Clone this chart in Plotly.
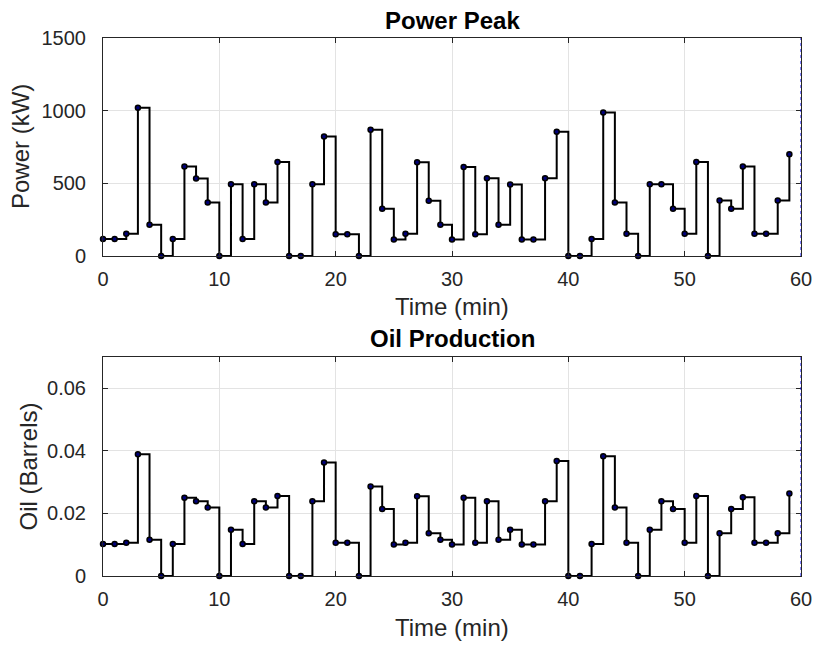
import plotly.graph_objects as go

time_min = list(range(60))
power_kw = [117, 117, 153, 1020, 215, 0, 117, 615, 533, 368,
            0, 494, 117, 494, 368, 647, 0, 0, 494, 823,
            149, 149, 0, 869, 325, 114, 153, 645, 380, 215,
            114, 613, 149, 535, 215, 492, 114, 114, 535, 855,
            0, 0, 117, 988, 368, 153, 0, 494, 494, 325,
            153, 647, 0, 382, 325, 615, 153, 153, 382, 700]
oil_barrels = [0.0102, 0.0102, 0.0106, 0.0389, 0.0116, 0, 0.0102, 0.0250, 0.0239, 0.0219,
               0, 0.0148, 0.0102, 0.0239, 0.0219, 0.0256, 0, 0, 0.0239, 0.0363,
               0.0106, 0.0106, 0, 0.0286, 0.0214, 0.0101, 0.0106, 0.0255, 0.0137, 0.0116,
               0.0101, 0.0250, 0.0106, 0.0239, 0.0116, 0.0148, 0.0101, 0.0101, 0.0239, 0.0368,
               0, 0, 0.0102, 0.0383, 0.0219, 0.0106, 0, 0.0148, 0.0239, 0.0214,
               0.0106, 0.0256, 0, 0.0137, 0.0214, 0.0252, 0.0106, 0.0106, 0.0137, 0.0264]

x_ticks = [0, 10, 20, 30, 40, 50, 60]
power_ticks = [0, 500, 1000, 1500]
oil_ticks = [0, 0.02, 0.04, 0.06]

FONT = "Liberation Sans, Arial, Helvetica, sans-serif"
AX = "#262626"
GRID = "#e3e3e3"
TICK_SIZE = 20
LABEL_SIZE = 24

fig = go.Figure()
marker = dict(size=5, color="#00007a", line=dict(color="black", width=1.5))
fig.add_trace(go.Scatter(x=time_min, y=power_kw, mode="lines+markers", line_shape="hv",
                         line=dict(color="black", width=2), marker=marker,
                         xaxis="x", yaxis="y", showlegend=False, cliponaxis=False))
fig.add_trace(go.Scatter(x=time_min, y=oil_barrels, mode="lines+markers", line_shape="hv",
                         line=dict(color="black", width=2), marker=marker,
                         xaxis="x2", yaxis="y2", showlegend=False, cliponaxis=False))

axcommon = dict(showline=True, linecolor=AX, linewidth=1, mirror="ticks", ticks="inside",
                ticklen=5, tickcolor=AX, showgrid=True, gridcolor=GRID, gridwidth=1,
                zeroline=False, automargin=False,
                tickfont=dict(family=FONT, size=TICK_SIZE, color=AX))
xcommon = dict(axcommon, ticklabelstandoff=5)
ycommon = dict(axcommon, ticklabelstandoff=12)

fig.update_layout(
    width=814, height=645,
    margin=dict(l=103, r=13, t=38, b=69),
    paper_bgcolor="white", plot_bgcolor="white",
    xaxis=dict(domain=[0, 1], anchor="y", range=[0, 60], tickvals=x_ticks, **xcommon),
    yaxis=dict(domain=[0.5948, 1], anchor="x", range=[0, 1500], tickvals=power_ticks, **ycommon),
    xaxis2=dict(domain=[0, 1], anchor="y2", range=[0, 60], tickvals=x_ticks, **xcommon),
    yaxis2=dict(domain=[0, 0.407], anchor="x2", range=[0, 0.07], tickvals=oil_ticks, **ycommon),
    annotations=[
        dict(text="<b>Power Peak</b>", xref="x domain", yref="paper", x=0.5, y=1.0,
             xanchor="center", yanchor="middle", yshift=18, showarrow=False,
             font=dict(family=FONT, size=LABEL_SIZE, color="black")),
        dict(text="<b>Oil Production</b>", xref="x2 domain", yref="y2 domain", x=0.5, y=1.0,
             xanchor="center", yanchor="middle", yshift=19, showarrow=False,
             font=dict(family=FONT, size=LABEL_SIZE, color="black")),
        dict(text="Time (min)", xref="x domain", yref="y domain", x=0.5, y=0,
             xanchor="center", yanchor="middle", yshift=-51, showarrow=False,
             font=dict(family=FONT, size=LABEL_SIZE, color=AX)),
        dict(text="Time (min)", xref="x2 domain", yref="y2 domain", x=0.5, y=0,
             xanchor="center", yanchor="middle", yshift=-51, showarrow=False,
             font=dict(family=FONT, size=LABEL_SIZE, color=AX)),
        dict(text="Power (kW)", xref="paper", yref="y domain", x=0, y=0.5, textangle=-90,
             xanchor="center", yanchor="middle", xshift=-82, showarrow=False,
             font=dict(family=FONT, size=LABEL_SIZE, color=AX)),
        dict(text="Oil (Barrels)", xref="paper", yref="y2 domain", x=0, y=0.5, textangle=-90,
             xanchor="center", yanchor="middle", xshift=-74, showarrow=False,
             font=dict(family=FONT, size=LABEL_SIZE, color=AX)),
    ],
    shapes=[
        dict(type="line", xref="x", yref="y domain", x0=60, x1=60, y0=0, y1=1,
             line=dict(color="blue", width=1, dash="dot")),
        dict(type="line", xref="x2", yref="y2 domain", x0=60, x1=60, y0=0, y1=1,
             line=dict(color="blue", width=1, dash="dot")),
    ],
)

fig.write_html("out.html", config={"displayModeBar": False},
               post_script="document.body.style.margin='0';document.body.style.overflow='hidden';")
